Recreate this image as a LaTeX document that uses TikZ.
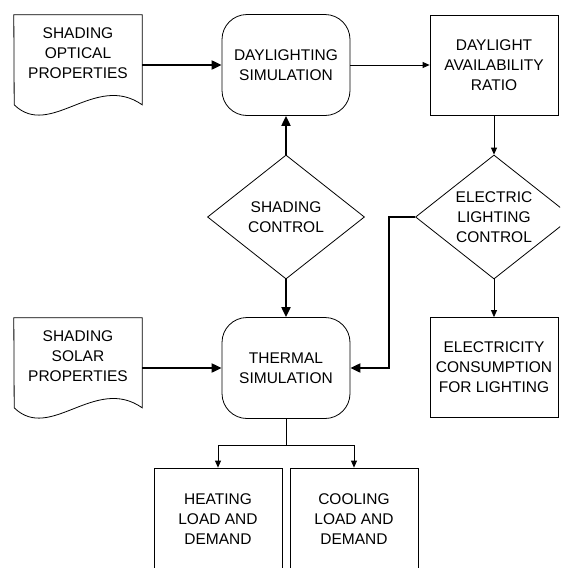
\documentclass[tikz,border=0pt]{standalone}
\usepackage{fontspec}
\setmainfont{Liberation Sans}
\usetikzlibrary{arrows.meta,shapes.geometric}

\tikzset{
  box/.style={draw, line width=0.8pt, minimum width=128pt, minimum height=100pt, align=center, inner sep=1pt},
  rbox/.style={box, rounded corners=25pt, minimum height=101pt},
  docnode/.style={minimum width=128pt, minimum height=77pt, align=center, inner sep=1pt},
  decision/.style={draw, line width=0.8pt, diamond, aspect=1.27, minimum width=157pt, minimum height=124pt, align=center, inner sep=1pt},
  thinarrow/.style={line width=0.8pt, -{Triangle[length=7pt,width=6pt]}},
  thickarrow/.style={line width=2pt, -{Triangle[length=10pt,width=9pt]}}
}

\begin{document}
\begin{tikzpicture}[x=1pt, y=-1pt, font=\fontsize{15.5}{20}\selectfont]
  \clip (0,0) rectangle (560,568);
  \fill[white] (0,0) rectangle (560,568);

  % top row
  \node[docnode] (optical) at (78,53.5) {SHADING\\OPTICAL\\PROPERTIES};
  \draw[line width=0.8pt] (optical.north west) -- (optical.north east) -- ++(0,90)
    .. controls +(-47,-33) and +(36,35) .. ++(-128,0) -- cycle;
  \node[rbox] (daysim) at (286,65) {DAYLIGHTING\\SIMULATION};
  \node[box] (ratio) at (494,65) {DAYLIGHT\\AVAILABILITY\\RATIO};

  % controls
  \node[decision] (shadectl) at (286,217) {SHADING\\CONTROL};
  \node[decision] (lightctl) at (494,217) {ELECTRIC\\LIGHTING\\CONTROL};

  % middle row
  \node[docnode] (solar) at (78,356.5) {SHADING\\SOLAR\\PROPERTIES};
  \draw[line width=0.8pt] (solar.north west) -- (solar.north east) -- ++(0,90)
    .. controls +(-47,-33) and +(36,35) .. ++(-128,0) -- cycle;
  \node[rbox] (thermsim) at (286,368) {THERMAL\\SIMULATION};
  \node[box] (elec) at (494,367.5) {ELECTRICITY\\CONSUMPTION\\FOR LIGHTING};

  % outputs
  \node[box, minimum height=102pt] (heating) at (218,519) {HEATING\\LOAD AND\\DEMAND};
  \node[box, minimum height=102pt] (cooling) at (354,519) {COOLING\\LOAD AND\\DEMAND};

  % connectors
  \draw[thickarrow] (optical.east |- daysim.west) -- (daysim.west);
  \draw[thinarrow] (daysim.east) -- (daysim.east -| ratio.west);
  \draw[thinarrow] (ratio.south) -- (lightctl.north);
  \draw[thickarrow] (shadectl.north) -- (daysim.south);
  \draw[thickarrow] (shadectl.south) -- (thermsim.north);
  \draw[thinarrow] (lightctl.south) -- (elec.north);
  \draw[thickarrow] (lightctl.west) -- ++(-26,0) |- (thermsim.east);
  \draw[thickarrow] (solar.east |- thermsim.west) -- (thermsim.west);
  \draw[line width=0.8pt] (thermsim.south) -- ++(0,26) coordinate (split);
  \draw[thinarrow] (split) -| (heating.north);
  \draw[thinarrow] (split) -| (cooling.north);
\end{tikzpicture}
\end{document}
